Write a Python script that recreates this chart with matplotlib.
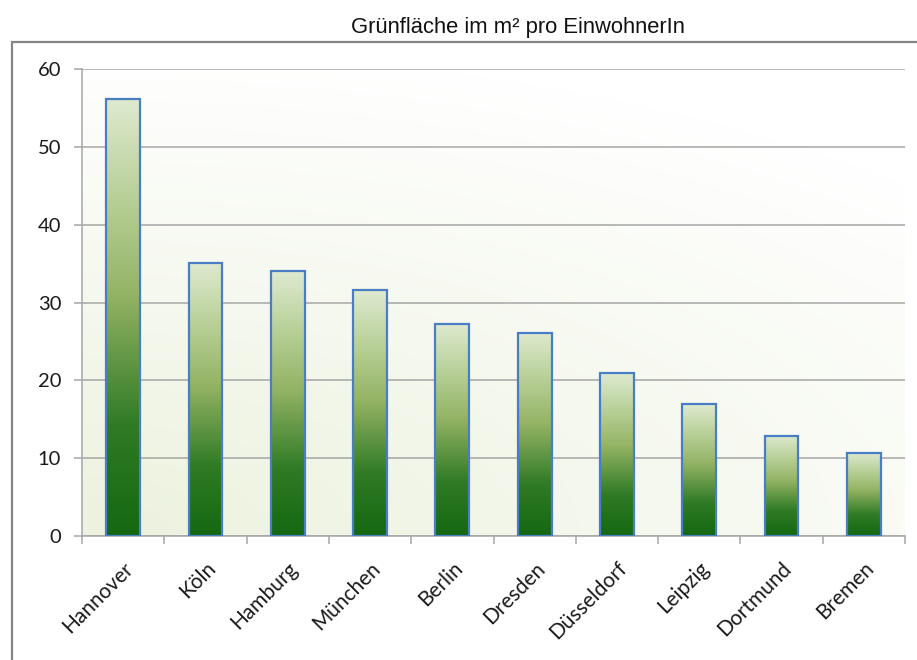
import numpy as np
import matplotlib
matplotlib.use("Agg")
import matplotlib.pyplot as plt
from matplotlib.colors import LinearSegmentedColormap
from matplotlib.patches import Rectangle

staedte = ["Hannover", "Köln", "Hamburg", "München", "Berlin",
           "Dresden", "Düsseldorf", "Leipzig", "Dortmund", "Bremen"]
gruen = [56.2, 35.1, 34.1, 31.6, 27.3, 26.1, 20.9, 16.9, 12.9, 10.7]
y_ticks = [0, 10, 20, 30, 40, 50, 60]
titel = "Grünfläche im m² pro EinwohnerIn"

W, H = 917, 660
fig = plt.figure(figsize=(W / 100, H / 100), dpi=100)

# frame around chart
fig.patches.append(Rectangle((12 / W, -0.1), 1.0, 1 - 42 / H + 0.1,
                             transform=fig.transFigure, fill=False,
                             edgecolor="#858585", linewidth=1.6))
fig.text(518 / W, 1 - 27 / H, titel, ha="center", va="center",
         fontsize=15.8, family="Liberation Sans", color="#111111")

ax = fig.add_axes([82 / W, 1 - 536 / H, (905 - 82) / W, (536 - 69) / H])

# soft background gradient (light green bottom left -> white top right)
xx, yy = np.meshgrid(np.linspace(0, 1, 300), np.linspace(0, 1, 200))
d = np.sqrt((xx * 0.8) ** 2 + (yy * 1.1) ** 2)
t = np.clip(d / 1.15, 0, 1)
c0 = np.array([236, 242, 222]) / 255
c1 = np.array([255, 255, 255]) / 255
bg = c0[None, None, :] * (1 - t[..., None]) + c1[None, None, :] * t[..., None]
ax.imshow(bg, extent=[0, 1, 0, 1], transform=ax.transAxes, origin="lower",
          aspect="auto", zorder=0, interpolation="bilinear")

x = np.arange(len(staedte))
bars = ax.bar(x, gruen, width=0.41, facecolor="none", edgecolor="#4a7ec4",
              linewidth=1.6, zorder=4)

cmap = LinearSegmentedColormap.from_list(
    "gr", [(0.0, "#156811"), (0.25, "#2f7a25"), (0.55, "#93b364"),
           (0.75, "#b4cd92"), (1.0, "#deead0")])
grad = np.linspace(0, 1, 256).reshape(-1, 1)
for b in bars:
    x0, y0 = b.get_x(), b.get_y()
    im = ax.imshow(grad, cmap=cmap, origin="lower", aspect="auto",
                   extent=[x0, x0 + b.get_width(), y0, y0 + b.get_height()],
                   zorder=3)
    im.set_clip_path(b)

ax.set_xlim(-0.5, len(staedte) - 0.5)
ax.set_ylim(0, 60)
ax.set_yticks(y_ticks)
ax.yaxis.grid(True, color="#a6a6a6", linewidth=1.1, zorder=1)
ax.set_axisbelow(True)

ax.set_xticks(np.arange(len(staedte) + 1) - 0.5, minor=False)
ax.set_xticklabels([])
ax.set_xticks(x, minor=True)
ax.set_xticklabels(staedte, minor=True, rotation=45, ha="right", va="top",
                   rotation_mode="anchor", fontsize=15, family="Lato",
                   color="#1a1a1a")
ax.tick_params(axis="x", which="minor", length=0, pad=16)
ax.tick_params(axis="x", which="major", length=6, color="#a6a6a6", width=1.1)
ax.tick_params(axis="y", length=6, color="#a6a6a6", width=1.1, pad=9)
for lbl in ax.get_yticklabels():
    lbl.set_fontsize(14.5)
    lbl.set_family("Lato")
    lbl.set_color("#1a1a1a")

for s in ["top", "right"]:
    ax.spines[s].set_visible(False)
for s in ["left", "bottom"]:
    ax.spines[s].set_color("#a6a6a6")
    ax.spines[s].set_linewidth(1.1)

fig.savefig("out.png", dpi=100)
